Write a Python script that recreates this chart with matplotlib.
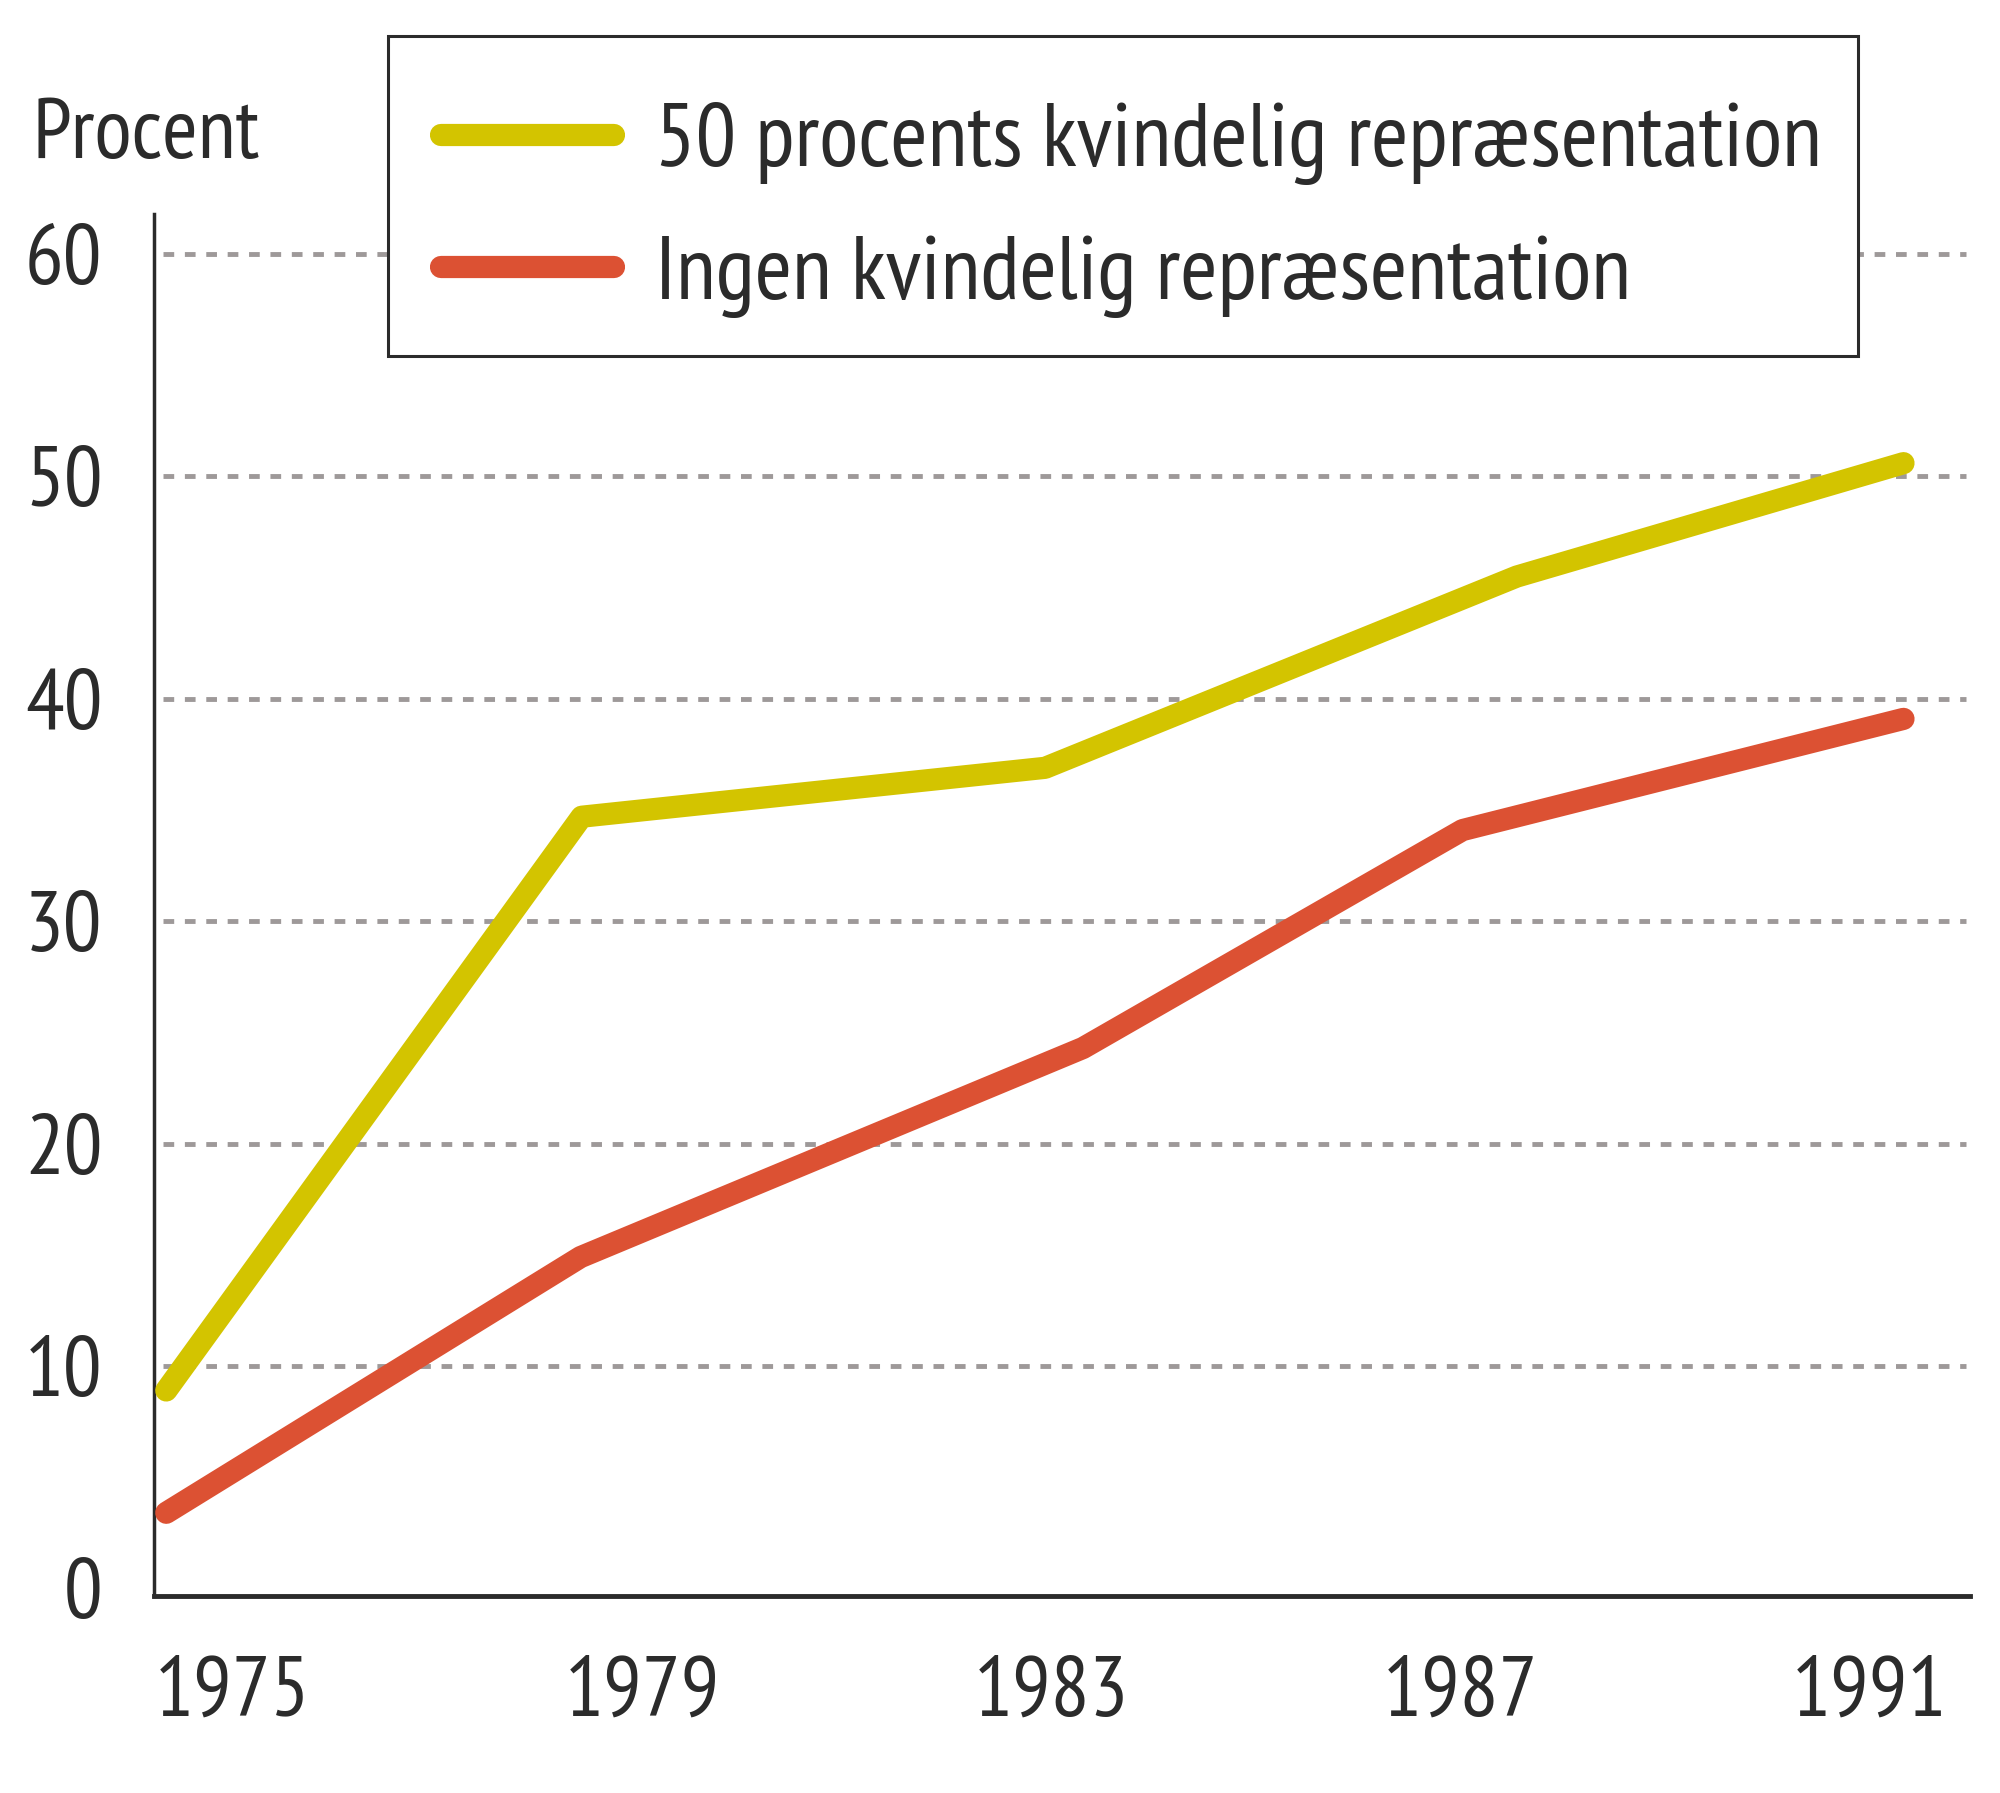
import matplotlib
matplotlib.use("Agg")
import matplotlib.pyplot as plt
from matplotlib.patches import Rectangle

plt.rcParams['font.family'] = ['PT Sans Narrow', 'DejaVu Sans']

# data
years_50 = [1974.35, 1978.41, 1982.94, 1987.55, 1991.33]
pct_50 = [8.9, 34.7, 36.9, 45.5, 50.6]
years_none = [1974.35, 1978.4, 1983.31, 1987.02, 1991.33]
pct_none = [3.4, 14.9, 24.3, 34.1, 39.1]
tick_years = [1975, 1979, 1983, 1987, 1991]
tick_pct = [0, 10, 20, 30, 40, 50, 60]
label_50 = "50 procents kvindelig repræsentation"
label_none = "Ingen kvindelig repræsentation"

yellow = '#d3c400'
red = '#dc5133'
dark = '#2b2b2b'

W, H = 2000, 1793
fig = plt.figure(figsize=(W / 100, H / 100), dpi=100)
ax = fig.add_axes([0.077, 0.1099, 0.908, 0.7707])

l1, = ax.plot(years_50, pct_50, color=yellow, lw=16, solid_capstyle='round',
              solid_joinstyle='round', zorder=3)
l2, = ax.plot(years_none, pct_none, color=red, lw=16, solid_capstyle='round',
              solid_joinstyle='round', zorder=3)

ax.set_xlim(1974.23, 1991.98)
ax.set_ylim(-0.34, 61.8)

# dotted grid lines
for v in tick_pct[1:]:
    ax.axhline(v, xmin=0.005, xmax=0.998, color='#9e9999', lw=3.5,
               linestyle=(0, (2.2, 2.2)), zorder=1)

ax.set_xticks(tick_years)
ax.set_xticklabels([str(y) for y in tick_years])
ax.set_yticks(tick_pct)
ax.set_yticklabels([str(v) for v in tick_pct])
ax.tick_params(axis='both', length=0, labelsize=62, colors=dark)
ax.tick_params(axis='y', pad=37)
ax.tick_params(axis='x', pad=43)

for s in ['top', 'right']:
    ax.spines[s].set_visible(False)
ax.spines['left'].set_linewidth(2.5)
ax.spines['left'].set_color(dark)
ax.spines['bottom'].set_linewidth(3.5)
ax.spines['bottom'].set_color(dark)

fig.text(0.016, 0.912, "Procent", fontsize=62, color=dark, va='baseline', ha='left')

# legend box drawn separately so the text sits like the original
box = Rectangle((388 / W, 1 - 356 / H), (1858 - 388) / W, (356 - 36) / H,
                transform=fig.transFigure, facecolor='white', edgecolor=dark,
                lw=2.2, zorder=4)
fig.patches.append(box)

leg = fig.legend([l1, l2], [label_50, label_none], loc='center left',
                 bbox_to_anchor=(441 / W, 1 - 210 / H), borderaxespad=0,
                 borderpad=0, fontsize=65, frameon=False, handlelength=1.92,
                 handletextpad=0.45, labelspacing=0.55)
leg.set_zorder(5)
for t in leg.get_texts():
    t.set_color(dark)

fig.savefig('out.png', dpi=100, facecolor='white')
